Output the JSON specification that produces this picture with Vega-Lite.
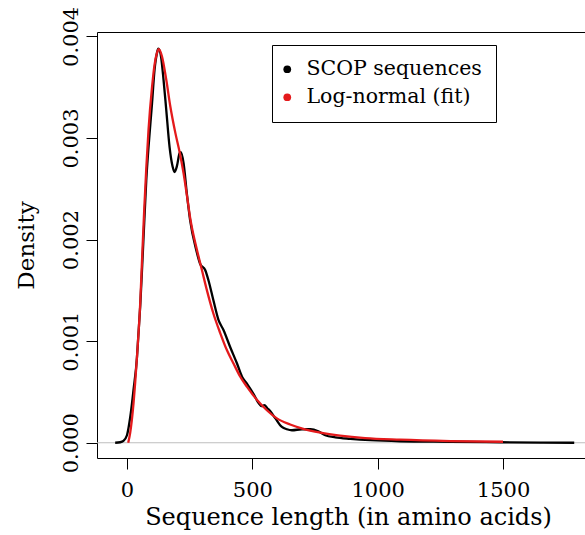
{
  "$schema": "https://vega.github.io/schema/vega-lite/v6.json",
  "width": 488,
  "height": 426,
  "autosize": "none",
  "padding": {"left": 97, "top": 32, "right": 0, "bottom": 77},
  "background": "white",
  "config": {
    "view": {"stroke": null},
    "font": "DejaVu Serif",
    "axis": {
      "domainColor": "black", "tickColor": "black", "labelColor": "black", "titleColor": "black",
      "labelFont": "DejaVu Serif", "titleFont": "DejaVu Serif",
      "labelFontSize": 21, "titleFontSize": 24, "titleFontWeight": "normal",
      "grid": false, "tickSize": 11, "domainWidth": 1, "tickWidth": 1
    },
    "legend": {"labelFont": "DejaVu Serif"}
  },
  "datasets": {
    "scop": [
      {"series": "SCOP sequences", "len": -47, "density": 0},
      {"series": "SCOP sequences", "len": -27, "density": 0.000005},
      {"series": "SCOP sequences", "len": -14, "density": 0.000018},
      {"series": "SCOP sequences", "len": 0, "density": 0.000074},
      {"series": "SCOP sequences", "len": 13, "density": 0.000251},
      {"series": "SCOP sequences", "len": 26, "density": 0.000517},
      {"series": "SCOP sequences", "len": 40, "density": 0.000842},
      {"series": "SCOP sequences", "len": 45, "density": 0.00104},
      {"series": "SCOP sequences", "len": 53, "density": 0.00135},
      {"series": "SCOP sequences", "len": 61, "density": 0.00175},
      {"series": "SCOP sequences", "len": 69, "density": 0.00217},
      {"series": "SCOP sequences", "len": 77, "density": 0.00258},
      {"series": "SCOP sequences", "len": 86, "density": 0.00291},
      {"series": "SCOP sequences", "len": 100, "density": 0.00334},
      {"series": "SCOP sequences", "len": 110, "density": 0.00367},
      {"series": "SCOP sequences", "len": 120, "density": 0.00384},
      {"series": "SCOP sequences", "len": 125, "density": 0.00388},
      {"series": "SCOP sequences", "len": 136, "density": 0.0038},
      {"series": "SCOP sequences", "len": 146, "density": 0.00357},
      {"series": "SCOP sequences", "len": 157, "density": 0.00327},
      {"series": "SCOP sequences", "len": 170, "density": 0.00291},
      {"series": "SCOP sequences", "len": 182, "density": 0.00272},
      {"series": "SCOP sequences", "len": 190, "density": 0.002665},
      {"series": "SCOP sequences", "len": 199, "density": 0.00272},
      {"series": "SCOP sequences", "len": 210, "density": 0.00285},
      {"series": "SCOP sequences", "len": 215, "density": 0.00286},
      {"series": "SCOP sequences", "len": 226, "density": 0.00275},
      {"series": "SCOP sequences", "len": 239, "density": 0.00245},
      {"series": "SCOP sequences", "len": 252, "density": 0.00219},
      {"series": "SCOP sequences", "len": 276, "density": 0.0019},
      {"series": "SCOP sequences", "len": 292, "density": 0.00176},
      {"series": "SCOP sequences", "len": 312, "density": 0.0017},
      {"series": "SCOP sequences", "len": 325, "density": 0.0016},
      {"series": "SCOP sequences", "len": 345, "density": 0.0014},
      {"series": "SCOP sequences", "len": 365, "density": 0.00121},
      {"series": "SCOP sequences", "len": 385, "density": 0.00111},
      {"series": "SCOP sequences", "len": 412, "density": 0.00094},
      {"series": "SCOP sequences", "len": 439, "density": 0.00078},
      {"series": "SCOP sequences", "len": 459, "density": 0.00065},
      {"series": "SCOP sequences", "len": 479, "density": 0.00058},
      {"series": "SCOP sequences", "len": 505, "density": 0.00048},
      {"series": "SCOP sequences", "len": 525, "density": 0.00039},
      {"series": "SCOP sequences", "len": 537, "density": 0.00036},
      {"series": "SCOP sequences", "len": 548, "density": 0.00037},
      {"series": "SCOP sequences", "len": 560, "density": 0.00034},
      {"series": "SCOP sequences", "len": 572, "density": 0.00031},
      {"series": "SCOP sequences", "len": 592, "density": 0.00024},
      {"series": "SCOP sequences", "len": 618, "density": 0.000156},
      {"series": "SCOP sequences", "len": 638, "density": 0.000133},
      {"series": "SCOP sequences", "len": 658, "density": 0.000123},
      {"series": "SCOP sequences", "len": 698, "density": 0.000133},
      {"series": "SCOP sequences", "len": 732, "density": 0.000133},
      {"series": "SCOP sequences", "len": 763, "density": 0.000113},
      {"series": "SCOP sequences", "len": 791, "density": 0.000074},
      {"series": "SCOP sequences", "len": 831, "density": 0.000054},
      {"series": "SCOP sequences", "len": 891, "density": 0.000039},
      {"series": "SCOP sequences", "len": 971, "density": 0.000025},
      {"series": "SCOP sequences", "len": 1090, "density": 0.000015},
      {"series": "SCOP sequences", "len": 1290, "density": 0.00001},
      {"series": "SCOP sequences", "len": 1490, "density": 0.000005},
      {"series": "SCOP sequences", "len": 1650, "density": 0.000002},
      {"series": "SCOP sequences", "len": 1784, "density": 0}
    ],
    "lognorm": [
      {"series": "Log-normal (fit)", "len": 5, "density": 0},
      {"series": "Log-normal (fit)", "len": 13, "density": 0.0001},
      {"series": "Log-normal (fit)", "len": 24, "density": 0.00033},
      {"series": "Log-normal (fit)", "len": 33, "density": 0.0006},
      {"series": "Log-normal (fit)", "len": 42, "density": 0.00092},
      {"series": "Log-normal (fit)", "len": 53, "density": 0.00138},
      {"series": "Log-normal (fit)", "len": 61, "density": 0.00185},
      {"series": "Log-normal (fit)", "len": 69, "density": 0.0023},
      {"series": "Log-normal (fit)", "len": 77, "density": 0.0027},
      {"series": "Log-normal (fit)", "len": 86, "density": 0.00308},
      {"series": "Log-normal (fit)", "len": 100, "density": 0.0035},
      {"series": "Log-normal (fit)", "len": 110, "density": 0.00372},
      {"series": "Log-normal (fit)", "len": 120, "density": 0.00384},
      {"series": "Log-normal (fit)", "len": 127, "density": 0.003875},
      {"series": "Log-normal (fit)", "len": 140, "density": 0.0038},
      {"series": "Log-normal (fit)", "len": 157, "density": 0.00357},
      {"series": "Log-normal (fit)", "len": 173, "density": 0.00331},
      {"series": "Log-normal (fit)", "len": 193, "density": 0.00305},
      {"series": "Log-normal (fit)", "len": 211, "density": 0.00285},
      {"series": "Log-normal (fit)", "len": 226, "density": 0.00265},
      {"series": "Log-normal (fit)", "len": 240, "density": 0.00242},
      {"series": "Log-normal (fit)", "len": 253, "density": 0.0022},
      {"series": "Log-normal (fit)", "len": 279, "density": 0.0019},
      {"series": "Log-normal (fit)", "len": 299, "density": 0.0017},
      {"series": "Log-normal (fit)", "len": 319, "density": 0.0015},
      {"series": "Log-normal (fit)", "len": 345, "density": 0.00127},
      {"series": "Log-normal (fit)", "len": 372, "density": 0.00108},
      {"series": "Log-normal (fit)", "len": 399, "density": 0.00091},
      {"series": "Log-normal (fit)", "len": 425, "density": 0.00078},
      {"series": "Log-normal (fit)", "len": 452, "density": 0.00065},
      {"series": "Log-normal (fit)", "len": 479, "density": 0.00055},
      {"series": "Log-normal (fit)", "len": 519, "density": 0.00042},
      {"series": "Log-normal (fit)", "len": 558, "density": 0.00032},
      {"series": "Log-normal (fit)", "len": 598, "density": 0.00024},
      {"series": "Log-normal (fit)", "len": 651, "density": 0.00018},
      {"series": "Log-normal (fit)", "len": 700, "density": 0.00014},
      {"series": "Log-normal (fit)", "len": 772, "density": 0.0001},
      {"series": "Log-normal (fit)", "len": 850, "density": 0.00007},
      {"series": "Log-normal (fit)", "len": 950, "density": 0.000045},
      {"series": "Log-normal (fit)", "len": 1090, "density": 0.00003},
      {"series": "Log-normal (fit)", "len": 1290, "density": 0.000017},
      {"series": "Log-normal (fit)", "len": 1500, "density": 0.00001}
    ]
  },
  "resolve": {"axis": {"x": "independent"}},
  "layer": [
    {
      "data": {"values": [{"density": 0}]},
      "mark": {"type": "rule", "color": "#BEBEBE", "strokeWidth": 1.2},
      "encoding": {
        "y": {"field": "density", "type": "quantitative", "title": "Density",
          "scale": {"domain": [-0.00015, 0.004043], "nice": false, "zero": false},
          "axis": {"values": [0, 0.001, 0.002, 0.003, 0.004], "format": ".3f", "labelAngle": -90, "labelAlign": "center", "labelBaseline": "alphabetic", "labelPadding": 9, "titleBaseline": "alphabetic", "titleFontSize": 23, "titlePadding": 27, "titleAngle": -90}
        }
      }
    },
    {
      "data": {"name": "scop"},
      "mark": {"type": "line", "strokeWidth": 2.3, "interpolate": "monotone"},
      "encoding": {
        "x": {"field": "len", "type": "quantitative", "title": "Sequence length (in amino acids)",
          "scale": {"domain": [-119.5, 1827], "nice": false, "zero": false},
          "axis": {"values": [0, 500, 1000, 1500], "format": "d", "labelPadding": 10, "labelBaseline": "top", "titleBaseline": "alphabetic", "titlePadding": 24, "titleX": 251, "titleAlign": "center"}
        },
        "y": {"field": "density", "type": "quantitative", "title": "Density",
          "scale": {"domain": [-0.00015, 0.004043], "nice": false, "zero": false}
        },
        "color": {"field": "series", "type": "nominal",
          "scale": {"domain": ["SCOP sequences", "Log-normal (fit)"], "range": ["#000000", "#E41A1C"]},
          "legend": {
            "orient": "none", "legendX": 175, "legendY": 13, "title": null,
            "symbolType": "circle", "symbolSize": 60, "symbolStrokeWidth": 0, "symbolOffset": -9,
            "labelFontSize": 20.5, "labelColor": "black", "labelLimit": 500,
            "strokeColor": "black", "padding": 14, "labelOffset": 9, "rowPadding": 7,
            "encode": {"symbols": {"update": {"fill": {"scale": "color", "field": "value"}, "fillOpacity": {"value": 1}}}}
          }
        }
      }
    },
    {
      "data": {"name": "lognorm"},
      "mark": {"type": "line", "strokeWidth": 2.3, "interpolate": "monotone"},
      "encoding": {
        "x": {"field": "len", "type": "quantitative", "scale": {"domain": [-119.5, 1827], "nice": false, "zero": false}, "axis": null},
        "y": {"field": "density", "type": "quantitative", "title": "Density", "scale": {"domain": [-0.00015, 0.004043], "nice": false, "zero": false}},
        "color": {"field": "series", "type": "nominal"}
      }
    },
    {
      "data": {"values": [{"len": 0}]},
      "mark": {"type": "point", "opacity": 0},
      "encoding": {
        "x": {"field": "len", "type": "quantitative", "scale": {"domain": [-119.5, 1827], "nice": false, "zero": false},
          "axis": {"orient": "top", "labels": false, "ticks": false, "title": null, "domain": true}
        }
      }
    }
  ]
}
